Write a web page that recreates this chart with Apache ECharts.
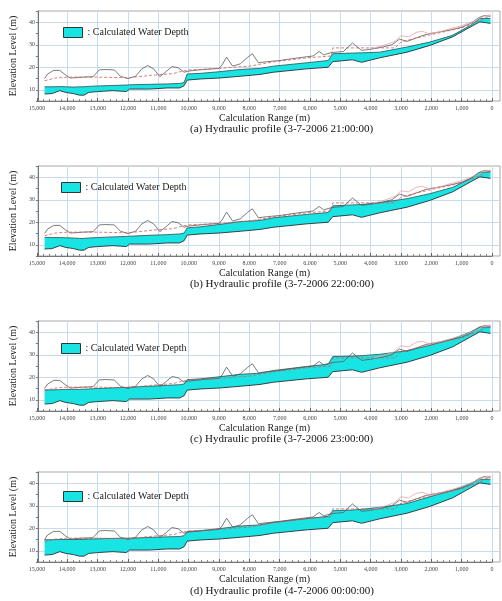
<!DOCTYPE html>
<html>
<head>
<meta charset="utf-8">
<script src="https://cdn.jsdelivr.net/npm/echarts@6/dist/echarts.min.js"></script>
<style>
html,body{margin:0;padding:0;background:#fff;}
#chart{width:502px;height:601px;}
</style>
</head>
<body>
<div id="chart"></div>
<script>
// ---------------- DATA ----------------
const xTicks = [15000,14000,13000,12000,11000,10000,9000,8000,7000,6000,5000,4000,3000,2000,1000,0];
const yTicks = [10,20,30,40];
const legendLabel = 'Calculated Water Depth';
const xAxisTitle = 'Calculation Range (m)';
const yAxisTitle = 'Elevation Level (m)';
const captions = [
  '(a) Hydraulic profile (3-7-2006 21:00:00)',
  '(b) Hydraulic profile (3-7-2006 22:00:00)',
  '(c) Hydraulic profile (3-7-2006 23:00:00)',
  '(d) Hydraulic profile (4-7-2006 00:00:00)'
];
// computation stations (m)
const stations = [14750,14500,14250,14050,13800,13600,13450,13300,13000,12500,12050,11950,11300,10700,10300,10150,10050,9600,9000,8300,7650,7200,6100,5400,5250,4600,4300,3700,2800,2050,1300,700,400,50];
// channel bed elevation (bottom of water)
const bedLevel = [8.1,8.3,9.6,8.8,8.3,7.6,7.6,8.8,9.2,9.6,9.2,10.3,10.3,10.8,10.8,11.8,14.3,14.8,15.2,16.0,16.8,17.8,19.3,20.0,22.5,23.3,22.2,24.2,26.7,29.7,33.5,38.0,40.2,39.5];
// calculated water surface elevation at each time
const wsA = [11.3,11.3,11.4,11.3,11.2,11.3,11.3,11.5,11.7,11.9,12.1,12.2,12.4,12.6,12.8,13.2,17.0,17.3,18.0,19.0,19.5,20.5,22.0,23.0,26.0,26.3,26.4,26.7,29.0,31.2,34.2,38.7,41.7,41.7];
const wsB = [13.3,13.2,13.2,13.1,13.0,12.8,12.8,13.0,13.2,13.5,13.7,13.8,14.2,14.5,14.8,15.2,17.5,18.0,19.0,20.3,20.8,22.0,23.5,24.3,27.3,27.7,27.9,28.7,30.5,32.7,35.5,39.5,42.2,42.4];
const wsC = [14.4,14.4,14.5,14.6,14.6,14.6,14.7,14.8,15.0,15.3,15.5,15.6,16.0,16.4,16.7,17.0,18.9,19.3,20.2,21.3,21.8,23.0,24.8,25.8,29.2,29.4,29.6,30.2,31.8,34.2,37.0,40.2,42.3,42.3];
const wsD = [14.9,14.9,15.0,15.0,15.0,15.0,15.1,15.2,15.3,15.5,15.6,15.6,15.9,16.2,16.3,16.7,18.5,18.9,19.8,21.0,21.5,22.7,24.3,25.3,27.8,28.1,28.4,29.3,31.0,34.0,36.8,40.0,41.7,41.8];
// left bank (dark thin line)
const bankLX = [14750,14650,14450,14250,14050,13900,13500,13150,12950,12750,12450,12250,12000,11750,11550,11350,11150,10950,10750,10550,10350,10150,10000,9500,9000,8900,8750,8550,8300,8050,7900,7700,7400,7000,6600,6200,5900,5700,5550,5300,4900,4600,4300,4000,3600,3300,3050,2800,2500,2200,1900,1600,1300,1000,700,450,250,50];
const bankLY = [15.0,17.0,18.6,18.6,16.5,15.2,15.6,15.8,18.8,19.0,18.8,16.0,15.0,16.0,19.2,20.8,19.2,15.8,18.0,20.3,19.8,17.8,18.3,19.0,19.5,21.0,24.5,20.5,21.5,24.5,26.0,22.0,22.5,23.0,23.8,24.5,25.0,27.0,25.5,26.5,27.0,30.8,27.5,28.0,29.0,30.0,32.5,31.5,33.0,34.5,35.3,36.0,36.8,37.8,39.5,42.0,43.0,42.6];
// right bank (red dashed)
const bankRX = [14750,14400,14000,13000,12000,11250,10500,10300,10000,9000,8000,7200,6100,5300,5250,4500,3200,3000,2500,2000,1500,1000,500,200,50];
const bankRY = [14.0,15.2,15.6,15.6,15.3,16.4,17.2,18.0,18.8,19.5,20.5,22.4,24.2,25.0,28.6,28.6,28.6,31.2,33.0,34.5,36.0,37.5,40.2,42.0,43.0];
// levee crest (pink thin line)
const leveeX = [3900,3500,3200,3000,2750,2500,2300,2100,1800,1400,1000,600,300,50];
const leveeY = [28.5,30.0,31.5,34.0,33.5,35.5,36.0,35.0,35.5,37.0,38.5,40.5,42.5,43.3];

const waterSurfaces = [wsA, wsB, wsC, wsD];

// ---------------- STYLE / LAYOUT ----------------
const serif = 'Liberation Serif';
const panelTops = [11, 166, 321, 472];
const panelH = 90;
const legendPos = [[63,27],[61,182],[61,343],[63,491]];
const captionTop = [124, 279, 434, 586];
const gridLine = '#c9dbef';
const cyan = '#19e4e4';

const pairs = (xs, ys) => xs.map((x, i) => [x, ys[i]]);

const grid = [], xAxis = [], yAxis = [], series = [], legend = [], title = [];

waterSurfaces.forEach((ws, i) => {
  const top = panelTops[i];
  grid.push({left: 37, width: 455, top: top, height: panelH, show: false});
  grid.push({left: 35, width: 465, top: top, height: panelH, show: true, borderColor: '#a8a8a8', borderWidth: 1, backgroundColor: 'transparent'});
  const gData = i * 2, gFrame = i * 2 + 1;

  xAxis.push({
    gridIndex: gData, type: 'value', min: 0, max: 15000, interval: 1000, inverse: true,
    axisLine: {show: true, lineStyle: {color: '#777', width: 1}},
    axisTick: {show: true, inside: true, length: 3, lineStyle: {color: '#666'}},
    minorTick: {show: true, splitNumber: 5, length: 2, lineStyle: {color: '#888'}},
    axisLabel: {fontSize: 6, fontFamily: serif, color: '#444', margin: 4,
      formatter: v => v.toLocaleString('en-US')},
    splitLine: {show: true, lineStyle: {color: gridLine, width: 1}},
    name: xAxisTitle, nameLocation: 'middle', nameGap: 12,
    nameTextStyle: {fontFamily: serif, fontSize: 10, color: '#222'}
  });
  xAxis.push({gridIndex: gFrame, type: 'value', min: 0, max: 1, show: false});

  yAxis.push({gridIndex: gData, type: 'value', min: 5, max: 45, interval: 5, show: false, splitLine: {show: false}});
  yAxis.push({
    gridIndex: gFrame, type: 'value', min: 5, max: 45, interval: 5,
    axisLine: {show: true, lineStyle: {color: '#777'}},
    axisTick: {show: true, length: 2, lineStyle: {color: '#777'}},
    axisLabel: {fontSize: 6, fontFamily: serif, color: '#444', margin: 3,
      formatter: v => (yTicks.indexOf(v) >= 0 ? String(v) : '')},
    splitLine: {show: true, lineStyle: {color: ['rgba(0,0,0,0)', gridLine], width: 1}},
    name: yAxisTitle, nameLocation: 'middle', nameGap: 15,
    nameTextStyle: {fontFamily: serif, fontSize: 10, color: '#222'}
  });

  // water band between bed and water surface (polygon through the axis scales)
  series.push({
    name: legendLabel, type: 'custom', xAxisIndex: gData, yAxisIndex: gData,
    data: stations.map((x, k) => [x, bedLevel[k], ws[k]]),
    encode: {x: 0, y: [1, 2]}, silent: true, z: 2,
    itemStyle: {color: cyan},
    renderItem: (params, api) => {
      if (params.dataIndex !== 0) return null;
      const upper = stations.map((x, k) => api.coord([x, ws[k]]));
      const lower = stations.map((x, k) => api.coord([x, bedLevel[k]])).reverse();
      return {type: 'polygon', shape: {points: upper.concat(lower)}, style: {fill: cyan, stroke: null}};
    }
  });
  series.push({
    type: 'line', xAxisIndex: gData, yAxisIndex: gData,
    data: pairs(stations, ws), symbol: 'none', silent: true,
    lineStyle: {color: '#2d4d4d', width: 0.8}, z: 3
  });
  series.push({
    type: 'line', xAxisIndex: gData, yAxisIndex: gData,
    data: pairs(stations, bedLevel), symbol: 'none', silent: true,
    lineStyle: {color: '#223333', width: 0.9}, z: 3
  });
  series.push({
    type: 'line', xAxisIndex: gData, yAxisIndex: gData,
    data: pairs(bankLX, bankLY), symbol: 'none', silent: true,
    lineStyle: {color: '#5a5a5a', width: 0.8}, z: 4
  });
  series.push({
    type: 'line', xAxisIndex: gData, yAxisIndex: gData,
    data: pairs(bankRX, bankRY), symbol: 'none', silent: true,
    lineStyle: {color: '#d65a5a', width: 0.8, type: [3, 2]}, z: 4
  });
  series.push({
    type: 'line', xAxisIndex: gData, yAxisIndex: gData,
    data: pairs(leveeX, leveeY), symbol: 'none', silent: true,
    lineStyle: {color: '#e3a7a7', width: 0.8}, z: 4
  });

  legend.push({
    left: legendPos[i][0], top: legendPos[i][1], padding: 0, itemWidth: 19, itemHeight: 10,
    icon: 'rect', data: [legendLabel], selectedMode: false,
    formatter: ': ' + legendLabel,
    itemStyle: {color: cyan, borderColor: '#333', borderWidth: 1},
    textStyle: {fontFamily: serif, fontSize: 10, color: '#222'}
  });
  title.push({
    text: captions[i], left: 190, top: captionTop[i], padding: 0,
    textStyle: {fontFamily: serif, fontSize: 11, fontWeight: 'normal', color: '#111'}
  });
});

const chart = echarts.init(document.getElementById('chart'), null, {renderer: 'canvas'});
chart.setOption({
  backgroundColor: '#fff',
  animation: false,
  title, legend, grid, xAxis, yAxis, series
});
</script>
</body>
</html>
